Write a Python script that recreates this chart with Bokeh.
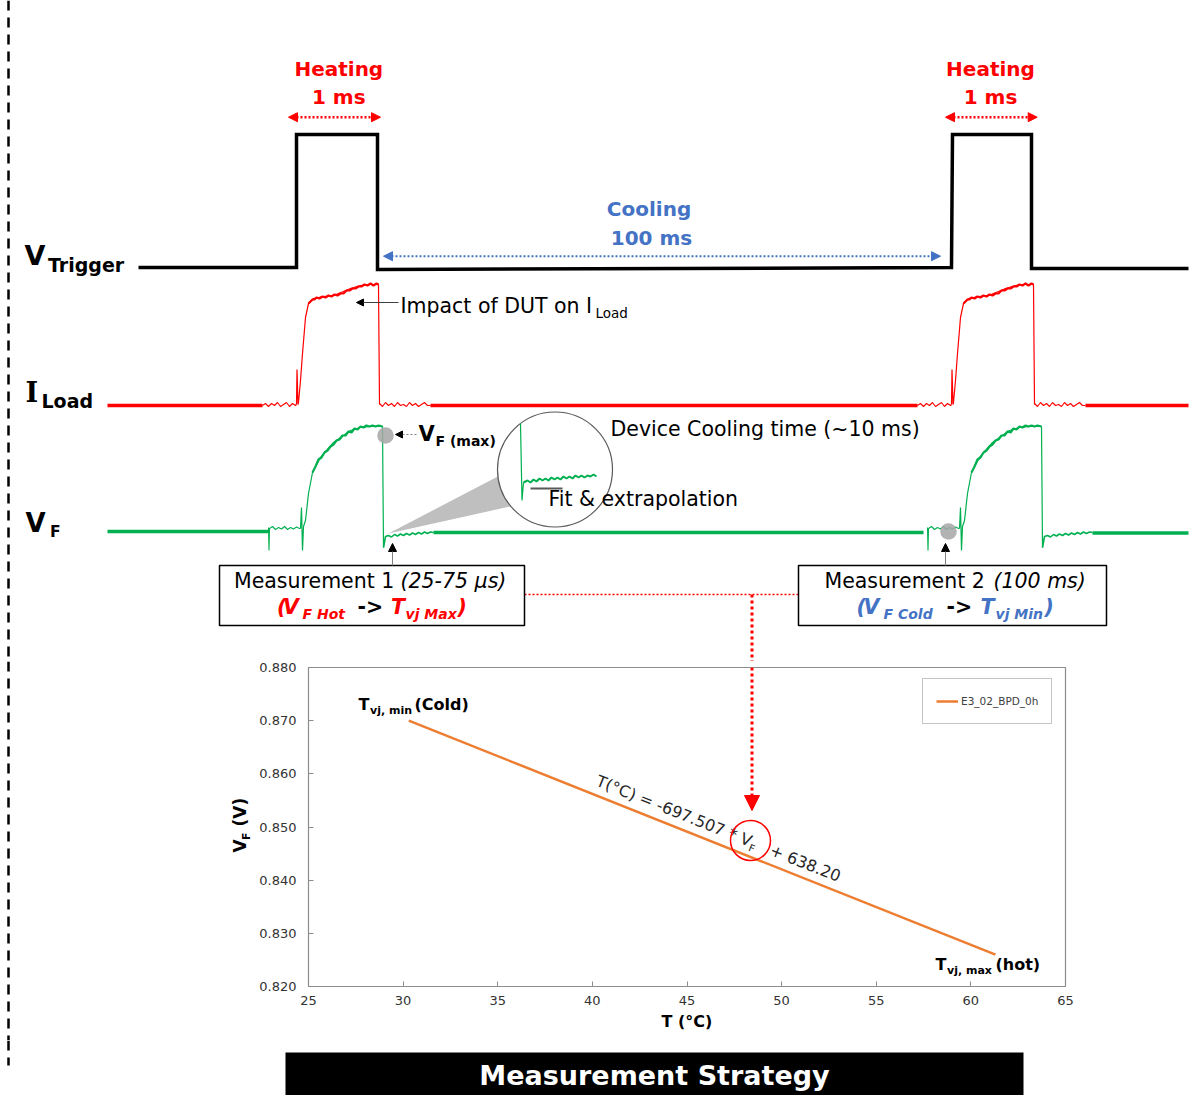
import math
from bokeh.plotting import figure
from bokeh.models import (Range1d, Arrow, NormalHead, FixedTicker,
                          PrintfTickFormatter, Legend, LegendItem)
from bokeh.layouts import column, row
from bokeh.core.properties import value
from bokeh.embed import file_html
from bokeh.resources import INLINE

FONT = "DejaVu Sans"
RED = "#FF0000"
GREEN = "#00B050"
BLUE = "#4472C4"
ORANGE = "#ED7D31"

# ---------------- data (diagram traces, drawn in diagram units) ----------------
trigger_x = [138, 296, 296, 377, 377, 951, 952, 1031, 1031, 1188]
trigger_y = [267, 267, 134, 134, 269, 267, 134, 134, 268, 268]

# I_Load: two identical pulses; positions of the pulses
iload_starts = [296, 951]
iload_base_x = [[107, 262], [430, 917], [1085, 1188]]
iload_base_y = [405, 405, 405]
iload_pre_dx = [-34, -31, -28, -25, -22, -19, -16, -13, -10, -7, -4, -1, 0]
iload_pre_y = [405, 403, 406, 403, 405, 402, 406, 404, 402, 406, 403, 405, 404]
iload_pulse_dx = [0, 0.5, 1.5, 2, 4, 6, 9, 12, 17, 27, 37, 47, 54, 64, 72, 82, 83]
iload_pulse_y = [404, 369, 404, 402, 380, 353, 317, 303, 298, 296, 295, 291, 288, 285, 284, 284, 404]
iload_plateau_dx = [12, 14, 16, 18, 20, 23, 26, 29, 32, 35, 38, 41, 44, 47, 50, 53, 56, 59, 62, 65, 68, 71, 74, 77, 80, 82]
iload_plateau_y = [303, 301, 299, 299, 297, 298, 296, 297, 295, 296, 294, 295, 293, 293, 290, 290, 288, 288, 286, 286, 284, 285, 283, 285, 283, 284]
iload_post_dx = [83, 86, 89, 92, 95, 98, 101, 104, 107, 110, 113, 116, 119, 122, 125, 128, 131, 134]
iload_post_y = [403, 406, 402, 405, 403, 406, 402, 405, 404, 406, 402, 405, 403, 406, 404, 402, 405, 405]

# V_F: two identical pulses
vf_starts = [301, 960]
vf_base_x = [[107, 268], [433, 923], [1092, 1188]]
vf_base_y = [531, 532, 532.5]
vf_pre_dx = [-33, -32.5, -32, -29, -26, -23, -20, -17, -14, -11, -8, -5, -2, -1]
vf_pre_y = [527, 550, 528, 526, 529, 527, 528.5, 526, 529, 527, 528.5, 526.5, 528, 528]
vf_pulse_dx = [-1, 0, 1, 2, 4, 7, 11, 19, 32, 49, 59, 70, 81, 82]
vf_pulse_y = [528, 507, 550, 526, 520, 493, 472, 457, 442, 430, 427, 426, 426, 547]
vf_plateau_dx = [11, 14, 17, 20, 23, 26, 29, 32, 35, 38, 41, 44, 47, 50, 53, 56, 59, 62, 65, 68, 71, 74, 77, 81]
vf_plateau_y = [472, 466, 459, 457, 452, 450, 446, 444, 440, 439, 435, 435, 431, 432, 428, 429, 426, 427, 425, 426, 425, 426, 425, 426]
vf_post_dx = [82, 84, 87, 90, 93, 96, 99, 102, 105, 108, 111, 114, 117, 120, 123, 126, 129, 132]
vf_post_y = [547, 536, 535, 536.5, 534, 535.5, 533.5, 535, 533, 534.5, 532.5, 534, 532, 533.5, 531.5, 533, 531.5, 532]

# magnified V_F detail (inside the lens)
zoom_spike_x = [520, 521.5, 523]
zoom_spike_y = [423, 500, 482]
zoom_trace_x = [523, 527, 530, 533, 536, 539, 542, 545, 548, 551, 554, 557, 560, 563, 566, 569,
                572, 575, 578, 581, 584, 587, 590, 593, 596]
zoom_trace_y = [482, 480, 482, 479, 481, 478, 480, 478, 480, 477, 479, 477, 479, 476, 478, 476,
                478, 475, 477, 475, 477, 475, 476, 474, 476]
zoom_fit_x = [530, 562]
zoom_fit_y = [488, 488]

# calibration chart data
temp_c = [30.3, 61.3]
vf_volt = [0.870, 0.826]
x_ticks = [25, 30, 35, 40, 45, 50, 55, 60, 65]
y_ticks = [0.820, 0.830, 0.840, 0.850, 0.860, 0.870, 0.880]
series_name = "E3_02_BPD_0h"

# page layout (pixels from the top-left of the page)
PAGE_W = 1203
TOP_H = 661
MID_BOTTOM = 1040
PAGE_H = 1095
STRIP_W = 252
FRAME_L, FRAME_R, FRAME_T, FRAME_B = 308, 1065, 667, 986

# correction for where the renderer puts an "alphabetic" baseline (fraction of font size)
BASE_K = 0.42


# ---------------- helpers ----------------
def blank(width, height, x0, x1, y_top, y_bottom):
    p = figure(width=width, height=height, x_range=Range1d(x0, x1),
               y_range=Range1d(y_bottom, y_top), output_backend="svg",
               toolbar_location=None, x_axis_location=None, y_axis_location=None,
               min_border=0)
    for g in p.grid:
        g.visible = False
    p.outline_line_color = None
    p.background_fill_color = "white"
    p.border_fill_color = "white"
    p.frame_align = False
    return p


def ident(px, py):
    return px, py


def txt(p, x, y, s, size, color="black", style="normal", align="left",
        baseline="alphabetic", angle=0.0, font=FONT, conv=ident):
    if baseline == "alphabetic":
        x -= BASE_K * size * math.sin(angle)
        y -= BASE_K * size * math.cos(angle)
    dx, dy = conv(x, y)
    p.text(x=[dx], y=[dy], text=[s], text_font=value(font), text_font_size=f"{size}px",
           text_font_style=style, text_color=color, text_align=align,
           text_baseline=baseline, angle=angle)


def arrow(p, xs, ys, xe, ye, color, width=1.0, dash="solid", start=None, end=None):
    p.add_layout(Arrow(x_start=xs, y_start=ys, x_end=xe, y_end=ye, line_color=color,
                       line_width=width, line_dash=dash, start=start, end=end))


def head(color, size):
    return NormalHead(size=size, fill_color=color, line_color=color)


# ---------------- top diagram ----------------
top = blank(PAGE_W, TOP_H, 0, PAGE_W, 0, TOP_H)

# left dashed separator
top.line([8, 8], [0, TOP_H], line_color="black", line_width=2.5, line_dash="10 7")

# V_Trigger
top.line(trigger_x, trigger_y, line_color="black", line_width=3.5, line_join="miter")

# I_Load
for bx, by in zip(iload_base_x, iload_base_y):
    top.line(bx, [by, by], line_color=RED, line_width=3.5)
for s in iload_starts:
    top.line([s + d for d in iload_pre_dx], iload_pre_y, line_color=RED, line_width=1.1)
    top.line([s + d for d in iload_pulse_dx], iload_pulse_y, line_color=RED, line_width=1.2)
    top.line([s + d for d in iload_plateau_dx], iload_plateau_y, line_color=RED, line_width=2.2)
    top.line([s + d for d in iload_post_dx], iload_post_y, line_color=RED, line_width=1.1)

# V_F
for bx, by in zip(vf_base_x, vf_base_y):
    top.line(bx, [by, by], line_color=GREEN, line_width=3.5)
for s in vf_starts:
    top.line([s + d for d in vf_pre_dx], vf_pre_y, line_color=GREEN, line_width=1.1)
    top.line([s + d for d in vf_pulse_dx], vf_pulse_y, line_color=GREEN, line_width=1.2)
    top.line([s + d for d in vf_plateau_dx], vf_plateau_y, line_color=GREEN, line_width=2.2)
    top.line([s + d for d in vf_post_dx], vf_post_y, line_color=GREEN, line_width=1.6)

# grey measurement markers
top.circle(x=[385, 948], y=[435, 531], radius=8.3, fill_color="#A6A6A6", fill_alpha=0.85,
           line_color=None)

# magnifier cone and lens
top.patch([388, 505, 554, 514], [533, 472, 469, 505], fill_color="#BFBFBF", line_color=None)
top.circle(x=[554.5], y=[469], radius=57.5, fill_color="white", line_color="#595959",
           line_width=1.2)
top.line(zoom_spike_x, zoom_spike_y, line_color=GREEN, line_width=1.2)
top.line(zoom_trace_x, zoom_trace_y, line_color=GREEN, line_width=2)
top.line(zoom_fit_x, zoom_fit_y, line_color="#595959", line_width=2)

# heating / cooling annotations
for cxp, a0, a1 in [(338.3, 288, 380), (990, 945, 1036.7)]:
    txt(top, cxp, 77.3, "Heating", 20, RED, "bold", "center")
    txt(top, cxp, 105, "1 ms", 20, RED, "bold", "center")
    arrow(top, a0, 116.7, a1, 116.7, RED, 2.5, "2 2", head(RED, 9), head(RED, 9))
txt(top, 648.5, 216.7, "Cooling", 20, BLUE, "bold", "center")
txt(top, 651, 246, "100 ms", 20, BLUE, "bold", "center")
arrow(top, 383, 255.7, 940, 255.7, BLUE, 2, "2 2", head(BLUE, 9), head(BLUE, 9))

# row labels
txt(top, 24, 266, "V", 27, "black", "bold")
txt(top, 47.5, 272, "Trigger", 19, "black", "bold")
txt(top, 25, 403, "I", 27, "black", "bold", font="DejaVu Serif")
txt(top, 41, 408.5, "Load", 19, "black", "bold")
txt(top, 25, 533, "V", 26, "black", "bold")
txt(top, 49.5, 538.5, "F", 15.5, "black", "bold")

# I_Load impact annotation
arrow(top, 398, 302, 356, 302, "#404040", 1, "solid", None, head("black", 7))
txt(top, 400, 314, "Impact of DUT on I", 20.5)
txt(top, 595, 318.5, "Load", 13.5)

# V_F max annotation
arrow(top, 416, 434, 395, 434, "#808080", 1, "2 2", None, head("black", 7))
txt(top, 418, 442, "V", 21, "black", "bold")
txt(top, 435, 446, "F (max)", 14, "black", "bold")

txt(top, 610, 437, "Device Cooling time (~10 ms)", 20.5)
txt(top, 548, 507, "Fit & extrapolation", 20.5)

# measurement connectors
arrow(top, 392, 565, 392, 543, "#808080", 1, "solid", None, head("black", 8))
arrow(top, 945, 565, 945, 543, "#808080", 1, "solid", None, head("black", 8))

# red dotted link to the chart
top.line([524, 798], [594, 594], line_color=RED, line_width=1.5, line_dash="2 2")
top.line([751.5, 751.5], [594, TOP_H], line_color=RED, line_width=3, line_dash="3 3")

# measurement boxes
top.quad(left=[219, 798], right=[524, 1106], top=[565, 565], bottom=[625, 625],
         fill_color="white", line_color="black", line_width=1.5)

txt(top, 233.5, 589.5, "Measurement 1", 20.5)
txt(top, 400, 589.5, "(25-75 µs)", 20.5, style="italic")
txt(top, 276.5, 615.5, "(", 20.5, RED, "bold italic")
txt(top, 282.5, 615.5, "V", 20.5, RED, "bold italic")
txt(top, 302, 619.5, "F Hot", 14, RED, "bold italic")
txt(top, 357, 615.5, "->", 20.5, "black", "bold")
txt(top, 390.5, 615.5, "T", 20.5, RED, "bold italic")
txt(top, 405, 619.5, "vj Max", 14, RED, "bold italic")
txt(top, 457, 615.5, ")", 20.5, RED, "bold italic")

txt(top, 824, 589.5, "Measurement 2", 20.5)
txt(top, 993, 589.5, "(100 ms)", 20.5, style="italic")
txt(top, 856, 615.5, "(", 20.5, BLUE, "bold italic")
txt(top, 863, 615.5, "V", 20.5, BLUE, "bold italic")
txt(top, 883, 619.5, "F Cold", 14, BLUE, "bold italic")
txt(top, 946, 615.5, "->", 20.5, "black", "bold")
txt(top, 980, 615.5, "T", 20.5, BLUE, "bold italic")
txt(top, 995, 619.5, "vj Min", 14, BLUE, "bold italic")
txt(top, 1044, 615.5, ")", 20.5, BLUE, "bold italic")

# ---------------- middle strip (dashed separator + y-axis title) ----------------
MID_H = MID_BOTTOM - TOP_H
strip = blank(STRIP_W, MID_H, 0, STRIP_W, TOP_H, MID_BOTTOM)
strip.line([8, 8], [TOP_H, MID_BOTTOM], line_color="black", line_width=2.5, line_dash="10 7")
txt(strip, 247, 852, "V", 17, "black", "bold", angle=math.pi / 2)
txt(strip, 250.5, 839.5, "F", 11, "black", "bold", angle=math.pi / 2)
txt(strip, 247, 826, "(V)", 17, "black", "bold", angle=math.pi / 2)

# ---------------- calibration chart ----------------
chart = figure(width=PAGE_W - STRIP_W, height=MID_H, x_range=Range1d(25, 65),
               y_range=Range1d(0.82, 0.88), output_backend="svg", toolbar_location=None,
               min_border_left=FRAME_L - STRIP_W, min_border_right=PAGE_W - FRAME_R,
               min_border_top=FRAME_T - TOP_H, min_border_bottom=MID_BOTTOM - FRAME_B)
chart.frame_align = False
for g in chart.grid:
    g.visible = False
chart.outline_line_color = "#8C8C8C"
chart.outline_line_width = 1.2
chart.border_fill_color = "white"

chart.xaxis.ticker = FixedTicker(ticks=x_ticks)
chart.yaxis.ticker = FixedTicker(ticks=y_ticks)
chart.yaxis.formatter = PrintfTickFormatter(format="%.3f")
for ax in chart.axis:
    ax.major_tick_in = 5
    ax.major_tick_out = 0
    ax.minor_tick_line_color = None
    ax.axis_line_color = "#8C8C8C"
    ax.major_tick_line_color = "#8C8C8C"
    ax.major_label_text_font = FONT
    ax.major_label_text_font_size = "13px"
    ax.major_label_text_color = "#333333"
chart.xaxis.major_label_standoff = 9
chart.yaxis.major_label_standoff = 12
chart.xaxis.axis_label = "T (°C)"
chart.xaxis.axis_label_text_font = FONT
chart.xaxis.axis_label_text_font_style = "bold"
chart.xaxis.axis_label_text_font_size = "16px"
chart.xaxis.axis_label_text_color = "black"
chart.xaxis.axis_label_standoff = 4


def cx(px):
    return 25 + (px - FRAME_L) * 40 / (FRAME_R - FRAME_L)


def cy(py):
    return 0.88 - (py - FRAME_T) * 0.06 / (FRAME_B - FRAME_T)


def to_chart(px, py):
    return cx(px), cy(py)


line_r = chart.line(temp_c, vf_volt, line_color=ORANGE, line_width=2.5)
legend = Legend(items=[LegendItem(label=series_name, renderers=[line_r])],
                location=(614, 262), margin=0, padding=13, spacing=0,
                glyph_width=22, glyph_height=18, label_height=18, label_standoff=3,
                label_text_font=FONT, label_text_font_size="10.5px",
                label_text_color="#404040", border_line_color="#8C8C8C",
                border_line_width=1, background_fill_color="white")
chart.add_layout(legend)

# end point labels
txt(chart, 358, 711, "T", 16, "black", "bold", conv=to_chart)
txt(chart, 369.5, 714.5, "vj, min", 11, "black", "bold", conv=to_chart)
txt(chart, 414, 711, "(Cold)", 16, "black", "bold", conv=to_chart)
txt(chart, 935, 971, "T", 16, "black", "bold", conv=to_chart)
txt(chart, 946.5, 974.5, "vj, max", 11, "black", "bold", conv=to_chart)
txt(chart, 995, 971, "(hot)", 16, "black", "bold", conv=to_chart)

# rotated equation along the line
EQ_ANG = 0.379
ux, uy = math.cos(EQ_ANG), math.sin(EQ_ANG)
nx, ny = -math.sin(EQ_ANG), math.cos(EQ_ANG)
P0 = (594, 786)


def along(d, off=0.0):
    return P0[0] + d * ux + off * nx, P0[1] + d * uy + off * ny


for d, off, s, size in [(0, 0, "T(°C) = -697.507 * V", 16), (166, 3.5, "F", 10),
                        (187, 0, "+ 638.20", 16)]:
    px, py = along(d, off)
    txt(chart, px, py, s, size, "#262626", "normal", angle=-EQ_ANG, conv=to_chart)

chart.scatter(x=[cx(750)], y=[cy(840)], size=40, marker="circle", fill_color=None,
              line_color=RED, line_width=1.5)

# red dotted arrow coming down from the measurement link
chart.add_layout(Arrow(x_start=cx(751.5), y_start=cy(TOP_H), x_end=cx(751.5), y_end=cy(810),
                       line_color=RED, line_width=3, line_dash="3 3",
                       start=None, end=head(RED, 15)))

# ---------------- bottom banner ----------------
bottom = blank(PAGE_W, PAGE_H - MID_BOTTOM, 0, PAGE_W, MID_BOTTOM, PAGE_H)
bottom.line([8, 8], [MID_BOTTOM, 1065], line_color="black", line_width=2.5, line_dash="10 7")
bottom.quad(left=[285], right=[1023], top=[1052], bottom=[PAGE_H + 5], fill_color="black",
            line_color=None)
txt(bottom, 654, 1075, "Measurement Strategy", 27, "white", "bold", "center", "middle")

page = column(top, row(strip, chart), bottom)
open("out.html", "w").write(file_html(page, INLINE, title="Measurement Strategy"))
